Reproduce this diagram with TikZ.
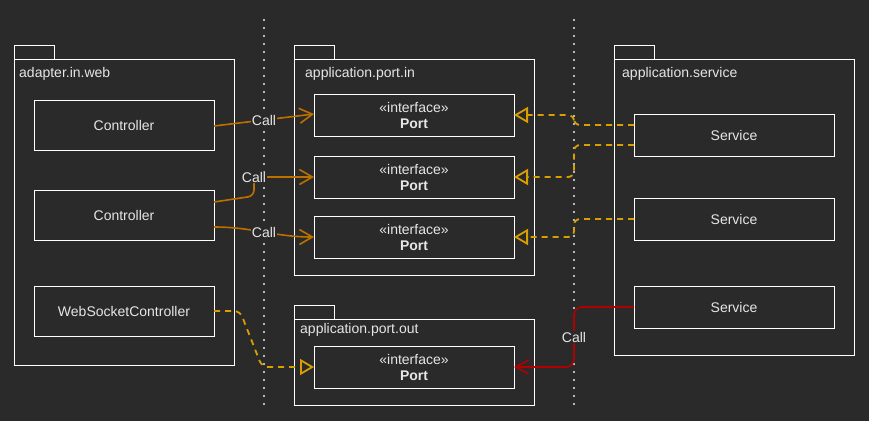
\documentclass[tikz,border=0pt]{standalone}
\usepackage{fontspec}
\setmainfont{Liberation Sans}
\usetikzlibrary{arrows.meta}
\definecolor{bg}{HTML}{2A2A2A}
\definecolor{fg}{HTML}{E6E6E6}
\definecolor{callc}{HTML}{BD7000}
\definecolor{realc}{HTML}{D99E00}
\definecolor{redc}{HTML}{B20000}
\begin{document}
\begin{tikzpicture}[x=1pt,y=-1pt,
  every node/.style={text=fg,font=\fontsize{14}{16}\selectfont},
  pkg/.style={draw=white,line width=1pt,inner sep=0pt,outer sep=0pt},
  box/.style={draw=white,line width=1pt,inner sep=0pt,outer sep=0pt,minimum width=180pt,minimum height=50pt,align=center},
  portbox/.style={box,minimum width=200pt,minimum height=42pt},
  lbl/.style={fill=bg,inner sep=1pt},
  call/.style={draw=callc,line width=1.6pt,-{Straight Barb[length=13pt,width=15pt]}},
  real/.style={draw=realc,line width=1.8pt,dash pattern=on 6pt off 5pt,rounded corners=6pt,-{Triangle[open,length=14pt,width=16pt,line width=1.8pt]}},
  redcall/.style={draw=redc,line width=1.6pt,rounded corners=8pt,-{Straight Barb[length=13pt,width=14pt]}},
  sep/.style={draw=white!90!bg,line width=2.4pt,line cap=round,dash pattern=on 0pt off 8pt}]
  \fill[bg] (0,0) rectangle (869,421);
  % separators
  \draw[sep] (264,20) -- (264,405);
  \draw[sep] (574,20) -- (574,405);
  % packages
  \node[pkg,minimum width=220pt,minimum height=306pt] (web) at (124,212) {};
  \draw[pkg] (web.north west) rectangle ++(40,-14);
  \node[anchor=west,inner sep=0pt] (webl) at (19,74) {adapter.in.web};
  \node[pkg,minimum width=240pt,minimum height=216pt] (portin) at (414,167) {};
  \draw[pkg] (portin.north west) rectangle ++(40,-14);
  \node[anchor=west,inner sep=0pt] (portinl) at (305,74) {application.port.in};
  \node[pkg,minimum width=240pt,minimum height=296pt] (service) at (734,207) {};
  \draw[pkg] (service.north west) rectangle ++(40,-14);
  \node[anchor=west,inner sep=0pt] (servicel) at (622,74) {application.service};
  \node[pkg,minimum width=240pt,minimum height=86pt] (portout) at (414,362) {};
  \draw[pkg] (portout.north west) rectangle ++(40,-14);
  \node[anchor=west,inner sep=0pt] (portoutl) at (300,330) {application.port.out};
  % classes
  \node[box] (c1) at (124,125) {Controller};
  \node[box] (c2) at (124,215) {Controller};
  \node[box] (wsc) at (124,311) {WebSocketController};
  \node[portbox] (p1) at (414,115) {«interface»\\\textbf{Port}};
  \node[portbox] (p2) at (414,177) {«interface»\\\textbf{Port}};
  \node[portbox] (p3) at (414,237) {«interface»\\\textbf{Port}};
  \node[portbox] (p4) at (414,367) {«interface»\\\textbf{Port}};
  \node[portbox] (s1) at (734,135) {Service};
  \node[portbox] (s2) at (734,219) {Service};
  \node[portbox] (s3) at (734,307) {Service};
  % calls
  \draw[call] ([yshift=-1pt]c1.east) -- node[lbl]{Call} ([yshift=1pt]p1.west);
  \draw[call,rounded corners=6pt] ([yshift=13pt]c2.east) -- (254,196) -- (254,177) node[lbl]{Call} -- (p2.west);
  \draw[call] ([yshift=-12pt]c2.east) to[out=0,in=180] node[lbl]{Call} (p3.west);
  \draw[redcall] (s3.west) -- (574,307) -- node[lbl]{Call} (574,367) -- (p4.east);
  % realizations
  \draw[real] ([yshift=10pt]s1.west) -- (574,125) -- (574,115) -- (p1.east);
  \draw[real] ([yshift=-10pt]s1.west) -- (574,145) -- (574,177) -- (p2.east);
  \draw[real] (s2.west) -- (574,219) -- (574,237) -- (p3.east);
  \draw[real] (wsc.east) -- (240,311) -- (262,367) -- (p4.west);
\end{tikzpicture}
\end{document}
